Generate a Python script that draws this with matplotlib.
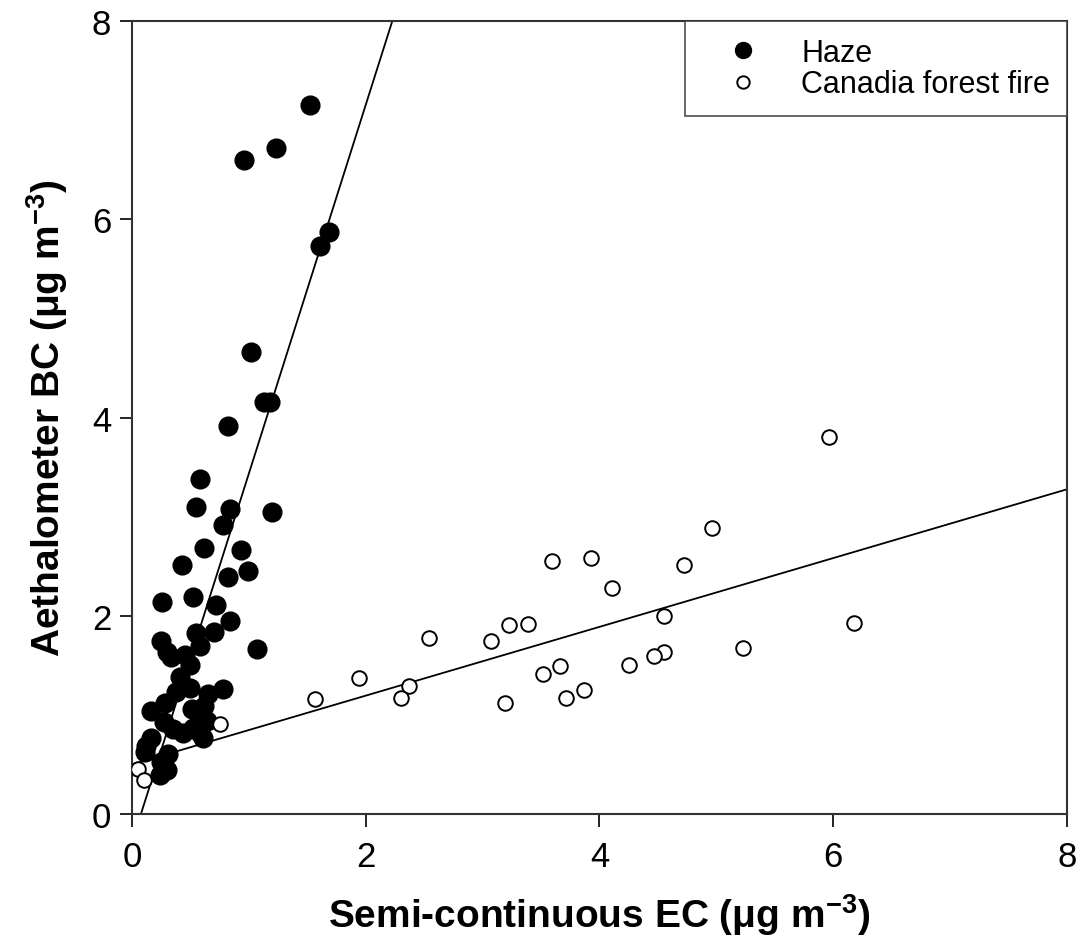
import matplotlib
matplotlib.use("Agg")
import matplotlib.pyplot as plt
import numpy as np

plt.rcParams['font.family'] = ['Liberation Sans', 'DejaVu Sans']
plt.rcParams['mathtext.default'] = 'regular'
plt.rcParams['axes.unicode_minus'] = False

# Haze samples (semi-continuous EC, aethalometer BC)
haze_ec = [1.52, 1.23, 0.96, 1.69, 1.61, 1.02, 1.13, 1.18, 0.82, 0.58,
           0.55, 0.84, 1.20, 0.78, 0.62, 0.93, 0.43, 0.99, 0.82, 0.26,
           0.52, 0.72, 0.84, 0.55, 0.70, 0.58, 1.07, 0.25, 0.30, 0.33,
           0.45, 0.50, 0.41, 0.50, 0.38, 0.78, 0.65, 0.28, 0.16, 0.51,
           0.62, 0.27, 0.35, 0.44, 0.52, 0.60, 0.64, 0.58, 0.61, 0.16,
           0.12, 0.11, 0.31, 0.25, 0.30, 0.24]
haze_bc = [7.15, 6.72, 6.60, 5.87, 5.73, 4.66, 4.16, 4.16, 3.91, 3.38,
           3.10, 3.08, 3.05, 2.92, 2.68, 2.66, 2.51, 2.45, 2.39, 2.14,
           2.19, 2.11, 1.95, 1.83, 1.84, 1.69, 1.66, 1.75, 1.63, 1.58,
           1.60, 1.50, 1.38, 1.27, 1.23, 1.26, 1.21, 1.12, 1.04, 1.06,
           1.09, 0.93, 0.86, 0.82, 0.87, 0.92, 0.94, 0.82, 0.77, 0.77,
           0.69, 0.63, 0.61, 0.52, 0.44, 0.39]

# Canadian forest fire samples
fire_ec = [5.96, 4.96, 3.59, 3.93, 4.72, 4.11, 4.55, 6.18, 2.54, 3.07,
           3.23, 3.39, 5.23, 4.55, 4.47, 4.25, 3.66, 3.52, 2.37, 2.30,
           3.19, 3.71, 3.87, 1.94, 1.57, 0.75, 0.05, 0.10]
fire_bc = [3.80, 2.89, 2.55, 2.58, 2.51, 2.28, 2.00, 1.93, 1.78, 1.75,
           1.91, 1.92, 1.67, 1.63, 1.59, 1.50, 1.49, 1.41, 1.29, 1.17,
           1.12, 1.17, 1.25, 1.37, 1.16, 0.91, 0.45, 0.34]

# regression lines (slope, intercept)
haze_fit = (3.72, -0.286)
fire_fit = (0.347, 0.50)

fig = plt.figure(figsize=(10.79, 9.37), dpi=100)
ax = fig.add_axes([0.1223, 0.1302, 0.8666, 0.8463])

ax.plot(haze_ec, haze_bc, 'o', color='black', markersize=13.5, linestyle='none',
        label='Haze', zorder=3)
ax.plot(fire_ec, fire_bc, 'o', markerfacecolor='white', markeredgecolor='black',
        markeredgewidth=1.4, markersize=10.5, linestyle='none',
        label='Canadia forest fire', zorder=3)

x0 = -haze_fit[1] / haze_fit[0]
x1 = (8 - haze_fit[1]) / haze_fit[0]
xh = np.array([x0, x1])
ax.plot(xh, haze_fit[0] * xh + haze_fit[1], color='black', lw=1.3, zorder=2)
xf = np.array([0, 8])
ax.plot(xf, fire_fit[0] * xf + fire_fit[1], color='black', lw=1.3, zorder=2)

ax.set_xlim(0, 8)
ax.set_ylim(0, 8)
ax.set_xticks([0, 2, 4, 6, 8])
ax.set_yticks([0, 2, 4, 6, 8])
ax.tick_params(direction='out', length=9, width=1.2, labelsize=25)
ax.tick_params(axis='x', pad=10)
ax.tick_params(axis='y', pad=6)
for s in ax.spines.values():
    s.set_linewidth(1.5)
    s.set_color('#333333')

ax.set_xlabel('Semi-continuous EC (μg m$^{-3}$)', fontsize=28, fontweight='bold', labelpad=13)
ax.set_ylabel('Aethalometer BC (μg m$^{-3}$)', fontsize=28, fontweight='bold', labelpad=16)

leg = ax.legend(loc='upper right', fontsize=22, frameon=True, fancybox=False,
                borderaxespad=0, borderpad=0.55, handletextpad=0.55, labelspacing=0.05,
                markerscale=0.85, handlelength=2.7)
leg.get_frame().set_edgecolor('#333333')
leg.get_frame().set_linewidth(1.3)

fig.savefig('out.png', dpi=100)
